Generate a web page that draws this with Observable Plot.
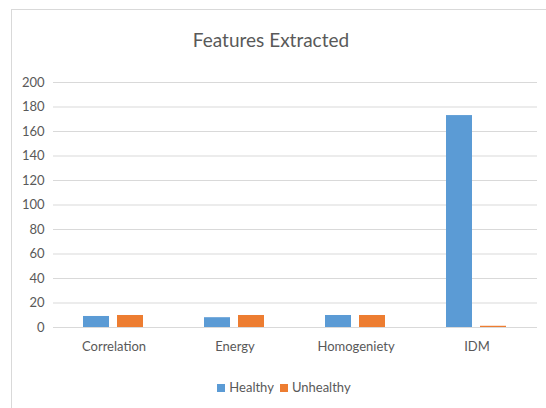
<!DOCTYPE html>
<html>
<head>
<meta charset="utf-8">
<script src="https://cdn.jsdelivr.net/npm/d3@7"></script>
<script src="https://cdn.jsdelivr.net/npm/@observablehq/plot@0.6"></script>
<style>
  body { margin: 0; background: #fff; font-family: Lato, "Open Sans", sans-serif; }
  #wrap { position: relative; width: 546px; height: 408px; overflow: hidden; background: #fff; }
  #frame { position: absolute; left: 11px; top: 9px; width: 600px; height: 500px; border: 1px solid #d9d9d9; box-sizing: border-box; }
  #title { position: absolute; left: 0; width: 542px; top: 28px; text-align: center; font-size: 19px; color: #595959; }
  #chart { position: absolute; left: 0; top: 0; }
  #legend { position: absolute; left: 0; width: 568px; top: 379px; text-align: center; font-size: 13px; color: #595959; }
  .sw { display: inline-block; width: 8px; height: 8px; margin-right: 4px; vertical-align: 0px; }
  .item { margin: 0 3px; }
</style>
</head>
<body>
<div id="wrap">
  <div id="frame"></div>
  <div id="title">Features Extracted</div>
  <div id="chart"></div>
  <div id="legend"></div>
</div>
<script>
const categories = ["Correlation", "Energy", "Homogeniety", "IDM"];
const seriesNames = ["Healthy", "Unhealthy"];
const healthy = [9, 8, 9.8, 173];
const unhealthy = [9.8, 9.8, 9.8, 1];
const colors = ["#5B9BD5", "#ED7D31"];
const yTicks = [0, 20, 40, 60, 80, 100, 120, 140, 160, 180, 200];

const data = [];
categories.forEach((c, i) => {
  data.push({category: c, series: seriesNames[0], value: healthy[i]});
  data.push({category: c, series: seriesNames[1], value: unhealthy[i]});
});

const plot = Plot.plot({
  width: 546,
  height: 360,
  marginLeft: 52,
  marginRight: 8,
  marginTop: 82,
  marginBottom: 33,
  style: {fontFamily: "Lato, 'Open Sans', sans-serif", fontSize: "13px", color: "#595959", background: "transparent"},
  fx: {domain: categories, padding: 0, label: null, axis: "bottom", tickSize: 0, tickPadding: 14},
  x: {domain: seriesNames, paddingInner: 0.23, paddingOuter: 0.865, axis: null},
  y: {domain: [0, 200], ticks: yTicks, label: null, tickSize: 0, tickPadding: 9},
  color: {domain: seriesNames, range: colors},
  marks: [
    Plot.ruleY(yTicks, {stroke: "#d9d9d9", strokeWidth: 1.2}),
    Plot.barY(data, {fx: "category", x: "series", y: "value", fill: "series"})
  ]
});
document.getElementById("chart").appendChild(plot);

const legend = document.getElementById("legend");
seriesNames.forEach((s, i) => {
  const span = document.createElement("span");
  span.className = "item";
  span.innerHTML = `<span class="sw" style="background:${colors[i]}"></span>${s}`;
  legend.appendChild(span);
});
</script>
</body>
</html>
